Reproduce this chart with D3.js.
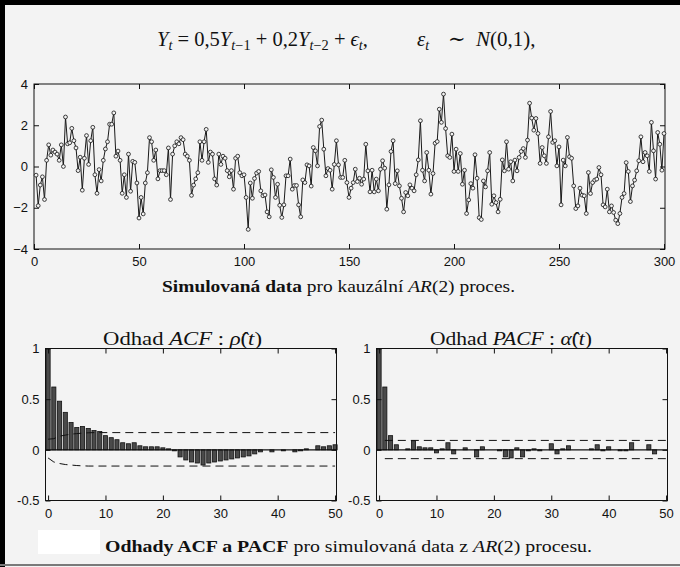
<!DOCTYPE html>
<html>
<head>
<meta charset="utf-8">
<script src="https://cdn.jsdelivr.net/npm/d3@7"></script>
<style>
  body { margin: 0; background: #f3f3f3; }
  svg { display: block; }
  .tick text { font-family: "Liberation Sans", Arial, sans-serif; font-size: 13px; fill: #111; }
  .tick line { stroke: #111; }
</style>
</head>
<body>
<div id="chart"></div>
<script>
// simulated AR(2) series, t = 1..300
var series = [
  -0.42, -1.9, -0.9, -0.5, -1.6, 0.3, 1.05, 0.55, 0.8, 0.7,
  0.6, 0.3, 1.05, 0.0, 2.4, 1.1, 1.15, 1.85, 1.25, 0.9,
  -0.2, 0.45, -1.15, 0.4, 1.5, 0.1, 1.25, 1.9, -0.4, -1.3,
  -0.15, -0.7, 0.3, 0.85, 1.2, 2.05, 2.05, 2.6, 0.5, 0.75,
  0.3, -1.3, -0.4, -1.5, 0.6, -1.2, 0.25, 0.2, -0.8, -2.5,
  -1.5, -2.3, -0.8, -0.3, 1.4, 1.2, 0.3, 0.8, -0.6, -0.2,
  -0.2, -0.2, -0.4, 0.9, -1.6, 0.6, 1.0, 1.2, 1.1, 1.4,
  1.3, 0.6, 0.5, 0.3, -1.4, -0.9, -0.6, -0.3, 1.2, 0.3,
  1.2, 1.8, 0.2, 0.7, 0.6, -0.6, -0.9, 0.6, 0.1, 0.5,
  0.4, -0.2, -0.5, -0.2, -1.1, 0.4, 0.5, -0.3, -0.45, -0.4,
  -1.5, -3.05, -0.8, -1.54, -0.58, -0.32, -0.24, -1.18, -1.42, -1.38,
  -2.2, -2.44, -0.16, -0.53, -1.5, -0.86, -1.88, -2.47, -1.86, -0.45,
  -0.45, 0.36, -1.1, -0.92, -0.92, -1.86, -2.44, -0.65, -0.78, 0.08,
  0.03, -0.95, 0.92, 0.76, 0.03, 1.94, 2.25, 0.84, -0.45, -0.1,
  -0.18, -1.1, 0.1, 1.25, 0.08, -0.53, -0.53, 0.3, -0.78, -1.5,
  -1.05, -0.78, -0.13, -0.73, -0.57, -0.86, -0.61, 1.08, -0.21, -1.23,
  -0.18, -1.23, -0.61, -1.18, -0.13, 0.28, -0.08, -2.07, -0.89, 0.73,
  1.25, -0.83, -0.21, -0.94, -1.54, -2.2, -1.26, -1.42, -0.89, -1.05,
  -1.18, -0.4, 0.32, 2.22, -0.18, -0.7, 0.68, -0.18, -1.34, -0.34,
  1.13, 1.21, 2.78, 2.14, 3.51, 1.84, 0.52, 0.44, 1.57, -0.24,
  0.84, -0.24, 0.63, -0.86, -0.18, -2.28, -1.62, -0.83, -1.05, 0.57,
  -0.57, -2.48, -2.57, -0.7, -0.99, -0.21, 0.68, -1.83, -1.42, -1.75,
  -2.2, -1.59, 0.32, -0.21, 1.2, -0.13, 0.23, -0.7, 0.31, -0.21,
  0.44, 0.73, 0.87, 0.44, 1.28, 3.07, 2.35, 1.76, 2.33, 1.6,
  0.15, 0.92, 0.52, 0.15, 1.44, 2.67, 1.17, 1.25, 0.03, 0.95,
  -1.86, 0.31, 0.03, 1.41, 0.47, 0.4, -0.94, -2.04, -1.91, -1.05,
  -1.39, -1.42, -2.28, -0.29, -1.31, -0.78, -0.66, -0.61, -0.05, -0.4,
  -1.86, -1.96, -1.1, -2.2, -1.91, -2.23, -2.6, -2.77, -2.28, -1.5,
  -1.31, 0.19, -0.24, -1.7, -0.94, -0.66, -0.21, 0.28, 1.44, 0.23,
  0.68, 0.52, -0.24, 2.14, 0.76, -0.61, 1.65, 1.08, -0.18, 1.6
];
var seriesXTicks = [0, 50, 100, 150, 200, 250, 300];
var seriesYTicks = [-4, -2, 0, 2, 4];

// sample ACF, lags 0..50
var acf = [
  1.0, 0.62, 0.48, 0.37, 0.27, 0.22, 0.23, 0.21, 0.19, 0.18,
  0.14, 0.12, 0.10, 0.07, 0.06, 0.07, 0.04, 0.03, 0.03, 0.03,
  0.02, 0.01, -0.01, -0.07, -0.10, -0.12, -0.13, -0.15, -0.13, -0.12,
  -0.11, -0.10, -0.09, -0.08, -0.07, -0.06, -0.04, -0.02, 0.0, -0.02,
  0.0, -0.01, 0.0, -0.02, -0.01, 0.01, 0.0, 0.04, 0.03, 0.04,
  0.05
];
// sample PACF, lags 0..50
var pacf = [
  1.0, 0.62, 0.14, 0.05, 0.0, 0.01, 0.09, 0.03, 0.02, 0.02,
  -0.03, 0.01, 0.07, -0.04, 0.0, 0.02, 0.0, -0.07, 0.03, 0.0,
  0.0, -0.01, -0.07, -0.08, 0.02, -0.07, -0.01, 0.01, -0.01, 0.0,
  0.06, -0.04, 0.01, 0.04, 0.0, 0.0, 0.0, 0.01, 0.05, -0.01,
  0.03, 0.0, -0.01, -0.01, 0.07, 0.0, 0.0, 0.05, -0.04, 0.0,
  0.0
];
// confidence bands
var acfBandLags = [0, 1, 2, 3, 4, 5, 6, 7, 8, 50];
var acfUpper = [0.105, 0.11, 0.135, 0.145, 0.155, 0.16, 0.165, 0.168, 0.17, 0.17];
var acfLower = [-0.08, -0.12, -0.135, -0.145, -0.15, -0.155, -0.158, -0.16, -0.16, -0.16];
var pacfBandLags = [1, 50];
var pacfUpper = [0.093, 0.093];
var pacfLower = [-0.087, -0.087];
var lagTicks = [0, 10, 20, 30, 40, 50];
var corrTicks = [-0.5, 0, 0.5, 1];

var W = 680, H = 567;
var svg = d3.select('#chart').append('svg')
    .attr('width', W)
    .attr('height', H);

svg.append('rect').attr('width', W).attr('height', H).attr('fill', '#f3f3f3');

// scan edges
svg.append('rect').attr('x', 0).attr('y', 0).attr('width', W).attr('height', 5).attr('fill', '#000');
svg.append('rect').attr('x', 0).attr('y', 0).attr('width', 5).attr('height', H).attr('fill', '#000');
svg.append('rect').attr('x', 0).attr('y', 564).attr('width', W).attr('height', 2).attr('fill', '#7a7a7a');

var serif = '"Liberation Serif", "DejaVu Serif", serif';

// equation on top
var eq = svg.append('text')
    .attr('x', 157).attr('y', 46)
    .attr('textLength', 211).attr('lengthAdjust', 'spacingAndGlyphs')
    .attr('font-family', serif).attr('font-size', 20).attr('fill', '#111');
function part(t, it, sub) {
    var s = eq.append('tspan').text(t);
    if (it) s.attr('font-style', 'italic');
    if (sub) s.attr('font-size', 14).attr('dy', 4);
    return s;
}
part('Y', true); part('t', true, true);
eq.append('tspan').attr('dy', -4).text(' = 0,5');
part('Y', true); part('t', true, true); eq.append('tspan').attr('font-size', 14).text('\u22121');
eq.append('tspan').attr('dy', -4).text(' + 0,2');
part('Y', true); part('t', true, true); eq.append('tspan').attr('font-size', 14).text('\u22122');
eq.append('tspan').attr('dy', -4).text(' + ');
part('\u03F5', true); part('t', true, true);
eq.append('tspan').attr('dy', -4).text(',');

var eq2 = svg.append('g')
    .attr('font-family', serif).attr('font-size', 21).attr('fill', '#111');
eq2.append('text').attr('x', 417).attr('y', 46)
    .call(function (t) {
        t.append('tspan').attr('font-style', 'italic').text('\u03B5');
        t.append('tspan').attr('font-style', 'italic').attr('font-size', 14).attr('dy', 4).text('t');
    });
eq2.append('text').attr('x', 448).attr('y', 46).text('\u223C');
eq2.append('text').attr('x', 476).attr('y', 46)
    .call(function (t) {
        t.append('tspan').attr('font-style', 'italic').text('N');
        t.append('tspan').text('(0,1),');
    });

// mirrored inward ticks, MATLAB style
function frameAxes(g, x, y, xt, yt, w, h, xfmt, yfmt) {
    g.append('g').attr('transform', 'translate(0,' + h + ')')
        .call(d3.axisBottom(x).tickValues(xt).tickSizeInner(-5).tickSizeOuter(0).tickPadding(8).tickFormat(xfmt))
        .call(function (a) { a.select('.domain').remove(); });
    g.append('g')
        .call(d3.axisTop(x).tickValues(xt).tickSizeInner(-5).tickSizeOuter(0).tickFormat(''))
        .call(function (a) { a.select('.domain').remove(); });
    g.append('g')
        .call(d3.axisLeft(y).tickValues(yt).tickSizeInner(-5).tickSizeOuter(0).tickPadding(6).tickFormat(yfmt))
        .call(function (a) { a.select('.domain').remove(); });
    g.append('g').attr('transform', 'translate(' + w + ',0)')
        .call(d3.axisRight(y).tickValues(yt).tickSizeInner(-5).tickSizeOuter(0).tickFormat(''))
        .call(function (a) { a.select('.domain').remove(); });
    g.append('rect').attr('width', w).attr('height', h)
        .attr('fill', 'none').attr('stroke', '#111').attr('stroke-width', 1);
}

// ---- time series panel
var ts = { left: 34, top: 84, w: 631, h: 165 };
var gTs = svg.append('g').attr('transform', 'translate(' + ts.left + ',' + ts.top + ')');
var xTs = d3.scaleLinear().domain([0, 300]).range([0, ts.w - 1]);
var yTs = d3.scaleLinear().domain([-4, 4]).range([ts.h, 0]);
frameAxes(gTs, xTs, yTs, seriesXTicks, seriesYTicks, ts.w, ts.h, d3.format('d'), d3.format('d'));

var tsLine = d3.line()
    .x(function (d, i) { return xTs(i + 1); })
    .y(function (d) { return yTs(d); });
gTs.append('path')
    .attr('d', tsLine(series))
    .attr('fill', 'none').attr('stroke', '#1a1a1a').attr('stroke-width', 1);
gTs.selectAll('circle').data(series).enter().append('circle')
    .attr('cx', function (d, i) { return xTs(i + 1); })
    .attr('cy', function (d) { return yTs(d); })
    .attr('r', 1.9)
    .attr('fill', '#f3f3f3').attr('stroke', '#111').attr('stroke-width', 0.8);

svg.append('text')
    .attr('x', 162).attr('y', 292)
    .attr('textLength', 353).attr('lengthAdjust', 'spacingAndGlyphs')
    .attr('font-family', serif).attr('font-size', 17.5).attr('fill', '#111')
    .call(function (t) {
        t.append('tspan').attr('font-weight', 'bold').text('Simulovaná data');
        t.append('tspan').text(' pro kauzální ');
        t.append('tspan').attr('font-style', 'italic').text('AR');
        t.append('tspan').text('(2) proces.');
    });

// ---- correlation panels
function corrPanel(left, vals, bandLags, upper, lower, title, sym, tx, tlen) {
    var w = 291, h = 152;
    var g = svg.append('g').attr('transform', 'translate(' + left + ',348.5)');
    var x = d3.scaleLinear().domain([-0.45, 50.25]).range([0, w]);
    var y = d3.scaleLinear().domain([-0.5, 1]).range([h, 0]);
    var step = x(1) - x(0);
    var bw = step * 0.72;

    g.selectAll('rect.bar').data(vals).enter().append('rect')
        .attr('class', 'bar')
        .attr('x', function (d, i) { return x(i) - bw / 2; })
        .attr('y', function (d) { return y(Math.max(0, d)); })
        .attr('width', bw)
        .attr('height', function (d) { return Math.abs(y(d) - y(0)); })
        .attr('fill', '#4a4a4a').attr('stroke', '#111').attr('stroke-width', 0.8);

    g.append('line')
        .attr('x1', 0).attr('x2', w)
        .attr('y1', y(0)).attr('y2', y(0))
        .attr('stroke', '#111').attr('stroke-width', 1.2);

    var band = d3.line()
        .x(function (d, i) { return x(bandLags[i]); })
        .y(function (d) { return y(d); });
    [upper, lower].forEach(function (b) {
        g.append('path').attr('d', band(b))
            .attr('fill', 'none').attr('stroke', '#111').attr('stroke-width', 1)
            .attr('stroke-dasharray', '8,5');
    });

    frameAxes(g, x, y, lagTicks, corrTicks, w, h, d3.format('d'), function (d) { return String(d); });

    var t = svg.append('text')
        .attr('x', tx).attr('y', 345)
        .attr('textLength', tlen).attr('lengthAdjust', 'spacingAndGlyphs')
        .attr('font-family', serif).attr('font-size', 19).attr('fill', '#111');
    t.append('tspan').text('Odhad ');
    t.append('tspan').attr('font-style', 'italic').text(title);
    t.append('tspan').text(' : ');
    t.append('tspan').attr('font-style', 'italic').text(sym + '\u0302');
    t.append('tspan').text('(');
    t.append('tspan').attr('font-style', 'italic').text('t');
    t.append('tspan').text(')');
}

corrPanel(45.5, acf, acfBandLags, acfUpper, acfLower, 'ACF', '\u03C1', 103, 159);
corrPanel(376.5, pacf, pacfBandLags, pacfUpper, pacfLower, 'PACF', '\u03B1', 430, 162);

// white patch on the scan
svg.append('rect').attr('x', 38).attr('y', 530).attr('width', 62).attr('height', 24).attr('fill', '#fff');

svg.append('text')
    .attr('x', 105).attr('y', 552)
    .attr('textLength', 487).attr('lengthAdjust', 'spacingAndGlyphs')
    .attr('font-family', serif).attr('font-size', 17.5).attr('fill', '#111')
    .call(function (t) {
        t.append('tspan').attr('font-weight', 'bold').text('Odhady ACF a PACF');
        t.append('tspan').text(' pro simulovaná data z ');
        t.append('tspan').attr('font-style', 'italic').text('AR');
        t.append('tspan').text('(2) procesu.');
    });
</script>
</body>
</html>
